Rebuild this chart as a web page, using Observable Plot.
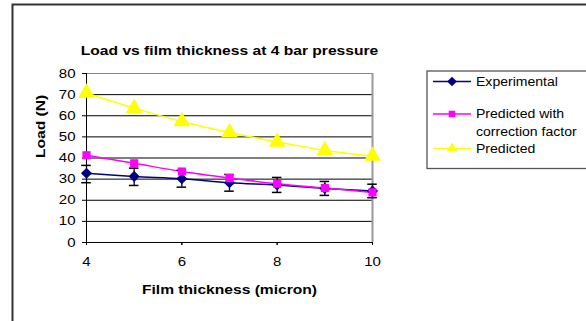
<!DOCTYPE html>
<html>
<head>
<meta charset="utf-8">
<script src="https://cdn.jsdelivr.net/npm/d3@7"></script>
<script src="https://cdn.jsdelivr.net/npm/@observablehq/plot@0.6"></script>
<style>
  html, body { margin: 0; padding: 0; background: #fff; }
  #wrap { position: relative; width: 586px; height: 321px; overflow: hidden; font-family: "Liberation Sans", Arial, sans-serif; }
  #wrap svg { position: absolute; left: 0; top: 0; }
</style>
</head>
<body>
<div id="wrap"></div>
<script>
// ---- data ----
const thickness = [4, 5, 6, 7, 8, 9, 10];
const experimental = [32.8, 31.3, 30.2, 28.3, 27.2, 25.6, 24.4];
const expErrLow = [28.3, 27.0, 26.2, 24.3, 23.7, 22.3, 21.2];
const expErrHigh = [36.5, 35.2, 34.2, 32.2, 30.8, 28.9, 27.6];
const predictedCorrected = [41.3, 37.5, 33.6, 30.5, 27.8, 25.8, 23.7];
const predicted = [70.8, 63.6, 57.3, 52.1, 47.6, 43.6, 41.0];
const xTicks = [4, 6, 8, 10];
const yTicks = [0, 10, 20, 30, 40, 50, 60, 70, 80];
const seriesNames = ["Experimental", "Predicted with\ncorrection factor", "Predicted"];
const seriesColors = ["#000080", "#FF00FF", "#FFFF00"];
const seriesSymbols = ["diamond2", "square", "triangle"];
const titleText = "Load vs film thickness at 4 bar pressure";
const xLabel = "Film thickness (micron)";
const yLabel = "Load (N)";

const rows = (vals) => thickness.map((x, i) => ({x, y: vals[i]}));
const expRows = thickness.map((x, i) => ({x, y: experimental[i], lo: expErrLow[i], hi: expErrHigh[i]}));
const corrRows = rows(predictedCorrected);
const predRows = rows(predicted);

const font = "Liberation Sans, Arial, sans-serif";
const capHalf = 0.1;
const STRETCH = 1.2; // the reference text is horizontally wide

const chart = Plot.plot({
  width: 586,
  height: 321,
  marginLeft: 86,
  marginRight: 214,
  marginTop: 73,
  marginBottom: 79,
  style: {fontFamily: font, background: "transparent", overflow: "visible"},
  x: {domain: [4, 10], ticks: xTicks, tickFormat: d => String(d)},
  y: {domain: [0, 80], ticks: yTicks},
  marks: [
    Plot.gridY(yTicks.filter(d => d > 0 && d < 80), {stroke: "#000", strokeOpacity: 1, strokeWidth: 1}),
    Plot.ruleY([80], {stroke: "#888", strokeWidth: 1}),
    Plot.ruleX([10], {stroke: "#999", strokeWidth: 2}),
    Plot.ruleX([4], {stroke: "#000", strokeWidth: 1}),
    Plot.ruleY([0], {stroke: "#000", strokeWidth: 1}),
    Plot.axisY({ticks: yTicks, tickSize: 4, tickPadding: 7, fontSize: 12.5, label: null, stroke: "#000", color: "#000"}),
    Plot.axisX({ticks: xTicks, tickSize: 3, tickPadding: 12, fontSize: 12.5, label: null, stroke: "#000", color: "#000", tickFormat: d => String(d)}),
    Plot.ruleX(xTicks, {x: d => d, y: 0, insetBottom: -3, insetTop: 0}),
    // lines
    Plot.line(predRows, {x: "x", y: "y", stroke: seriesColors[2], strokeWidth: 1.5, curve: "catmull-rom"}),
    Plot.line(expRows, {x: "x", y: "y", stroke: seriesColors[0], strokeWidth: 1.5, curve: "catmull-rom"}),
    Plot.line(corrRows, {x: "x", y: "y", stroke: seriesColors[1], strokeWidth: 1.5, curve: "catmull-rom"}),
    // error bars
    Plot.ruleX(expRows, {x: "x", y1: "lo", y2: "hi", stroke: "#000", strokeWidth: 1.3}),
    Plot.ruleY(expRows, {y: "lo", x1: d => d.x - capHalf, x2: d => d.x + capHalf, stroke: "#000", strokeWidth: 1.5}),
    Plot.ruleY(expRows, {y: "hi", x1: d => d.x - capHalf, x2: d => d.x + capHalf, stroke: "#000", strokeWidth: 1.5}),
    // markers
    Plot.dot(predRows, {x: "x", y: "y", symbol: seriesSymbols[2], fill: seriesColors[2], r: 6.2}),
    Plot.dot(expRows, {x: "x", y: "y", symbol: seriesSymbols[0], fill: seriesColors[0], r: 5}),
    Plot.dot(corrRows, {x: "x", y: "y", symbol: seriesSymbols[1], fill: seriesColors[1], r: 4.6}),
    // title & labels
    Plot.text([titleText], {frameAnchor: "top", dy: -28, fontSize: 13, fontWeight: "bold", fill: "#000", text: d => d}),
    Plot.text([yLabel], {frameAnchor: "left", dx: -46, rotate: -90, fontSize: 13, fontWeight: "bold", fill: "#000", text: d => d}),
    Plot.text([xLabel], {frameAnchor: "bottom", dy: 51, fontSize: 13, fontWeight: "bold", fill: "#000", text: d => d})
  ]
});
document.getElementById("wrap").appendChild(chart);

function stretch(el, f) {
  const n = el.getComputedTextLength();
  if (n > 0) {
    el.setAttribute("textLength", (n * f).toFixed(2));
    el.setAttribute("lengthAdjust", "spacingAndGlyphs");
  }
}
d3.select(chart).selectAll("text").each(function() {
  if (this.querySelector("tspan")) {
    d3.select(this).selectAll("tspan").each(function() { stretch(this, STRETCH); });
  } else stretch(this, STRETCH);
});

// ---- overlay: outer border and legend ----
const ov = d3.select("#wrap").append("svg").attr("width", 586).attr("height", 321)
  .style("font-family", font);
ov.append("rect").attr("x", 12.5).attr("y", 4.5).attr("width", 600).attr("height", 400)
  .attr("fill", "none").attr("stroke", "#333").attr("stroke-width", 2);
const lg = ov.append("g");
lg.append("rect").attr("x", 427).attr("y", 71).attr("width", 200).attr("height", 97.5)
  .attr("fill", "none").attr("stroke", "#555").attr("stroke-width", 1.3);
const entryY = [81.5, 114, 148.5];
seriesNames.forEach((name, i) => {
  const y = entryY[i];
  lg.append("line").attr("x1", 433).attr("x2", 471).attr("y1", y).attr("y2", y)
    .attr("stroke", seriesColors[i]).attr("stroke-width", 1.5);
  const type = i === 0 ? d3.symbolDiamond2 : i === 1 ? d3.symbolSquare2 : d3.symbolTriangle2;
  const size = i === 0 ? 60 : i === 1 ? 55 : 80;
  lg.append("path").attr("d", d3.symbol(type, size)()).attr("transform", `translate(452,${y})`)
    .attr("fill", seriesColors[i]);
  name.split("\n").forEach((ln, k) => {
    const t = lg.append("text").attr("x", 476).attr("y", y + k * 17.5).attr("dy", "0.35em")
      .attr("font-size", 12).attr("fill", "#000").text(ln);
    stretch(t.node(), 1.17);
  });
});
</script>
</body>
</html>
